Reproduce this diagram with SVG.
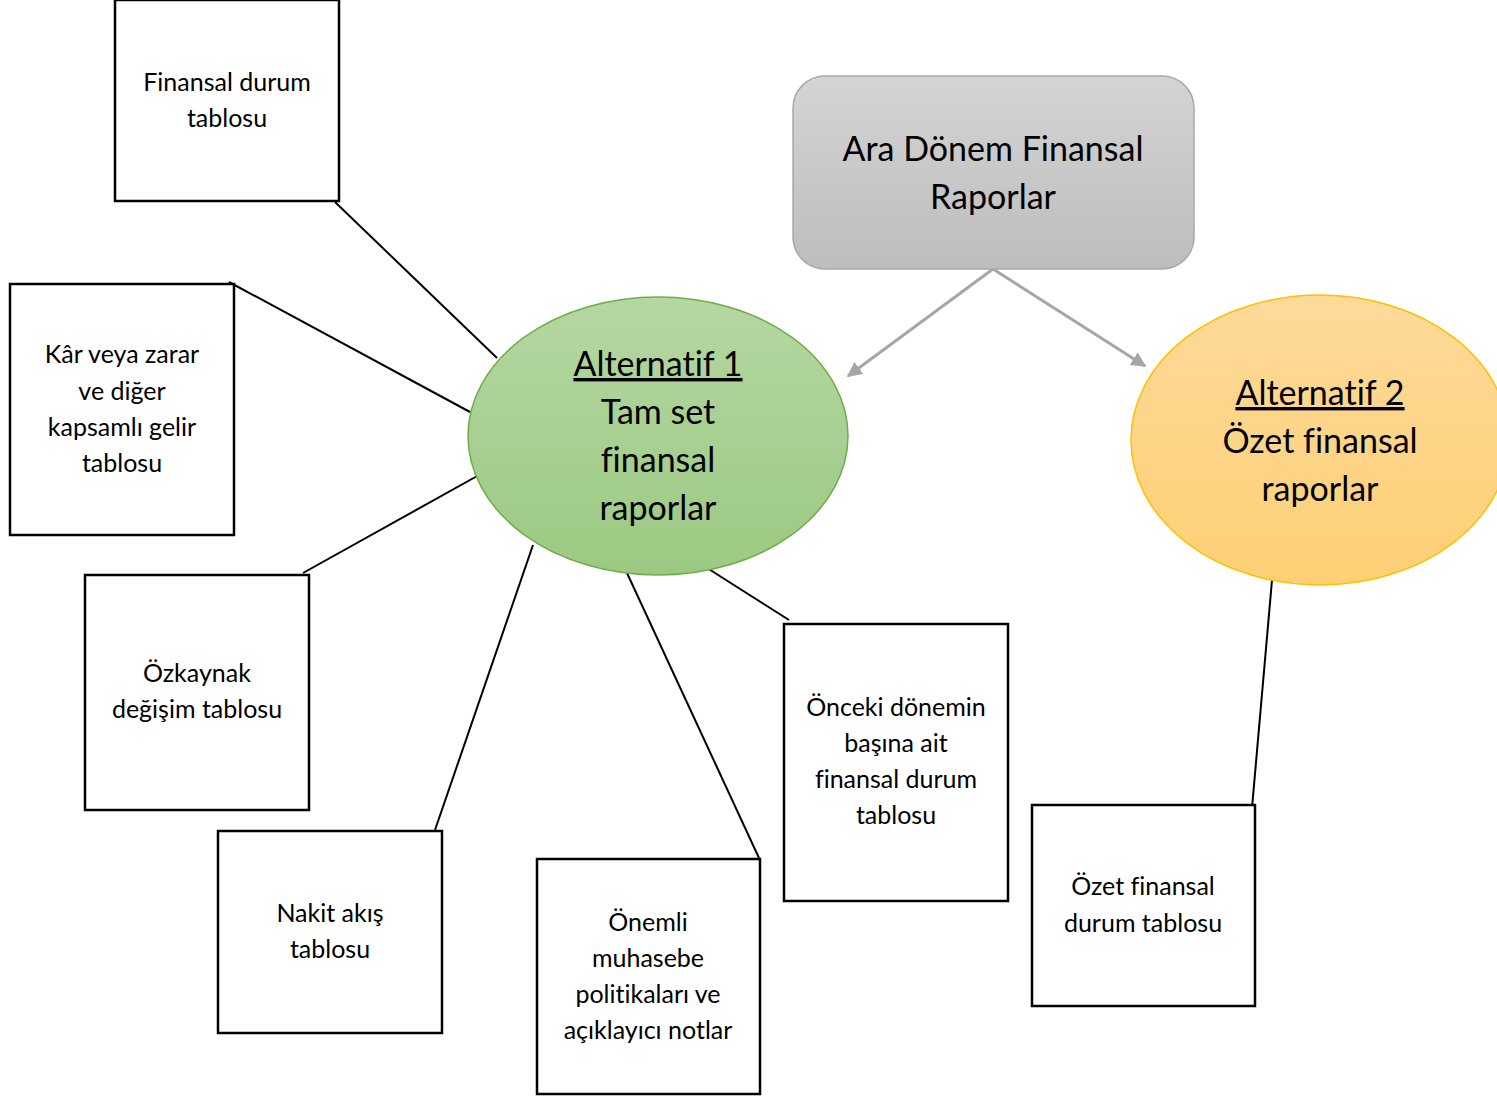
<svg xmlns="http://www.w3.org/2000/svg" width="1497" height="1099" viewBox="0 0 1497 1099">
<style>
text { font-family: Lato, "Open Sans", "Liberation Sans", sans-serif; fill: #000; text-anchor: middle; font-variant-ligatures: none; }
.big { font-size: 34px; }
.small { font-size: 25px; }
.box { fill: #fff; stroke: #000; stroke-width: 2.5; }
.link { stroke: #000; stroke-width: 2; fill: none; }
.arrow { stroke: #a6a6a6; stroke-width: 3; fill: none; marker-end: url(#ah); }
</style>
<defs>
<linearGradient id="gGray" x1="0" y1="0" x2="0" y2="1">
<stop offset="0" stop-color="#d4d4d4"/>
<stop offset="1" stop-color="#bdbdbd"/>
</linearGradient>
<linearGradient id="gGreen" x1="0" y1="0" x2="0" y2="1">
<stop offset="0" stop-color="#b5d7a2"/>
<stop offset="1" stop-color="#9bc982"/>
</linearGradient>
<linearGradient id="gOrange" x1="0" y1="0" x2="0" y2="1">
<stop offset="0" stop-color="#fdda9a"/>
<stop offset="1" stop-color="#fdd075"/>
</linearGradient>
<marker id="ah" viewBox="0 0 10 10" refX="9" refY="5" markerWidth="5" markerHeight="5" orient="auto" markerUnits="strokeWidth">
<path d="M0,0 L10,5 L0,10 z" fill="#a6a6a6"/>
</marker>
</defs>

<g id="connectors">
<line class="link" x1="335" y1="202" x2="497" y2="358"/>
<line class="link" x1="229" y1="282" x2="470" y2="412"/>
<line class="link" x1="303" y1="573" x2="479" y2="475"/>
<line class="link" x1="435" y1="830" x2="533" y2="545"/>
<line class="link" x1="627" y1="573" x2="759" y2="858"/>
<line class="link" x1="704" y1="566" x2="789" y2="620"/>
<line class="link" x1="1272" y1="580" x2="1252" y2="808"/>
<line class="arrow" x1="993" y1="269" x2="848" y2="376"/>
<line class="arrow" x1="993" y1="269" x2="1145" y2="366"/>
</g>

<g id="node-ara">
<rect x="793" y="76" width="401" height="193" rx="32" fill="url(#gGray)" stroke="#a9a9a9" stroke-width="1.5"/>
<text class="big" x="993" y="161">Ara Dönem Finansal</text>
<text class="big" x="993" y="209">Raporlar</text>
</g>

<g id="node-alt1">
<ellipse cx="658" cy="436" rx="190" ry="139" fill="url(#gGreen)" stroke="#70ad47" stroke-width="1.5"/>
<text class="big" x="658" y="376" text-decoration="underline">Alternatif 1</text>
<text class="big" x="658" y="424">Tam set</text>
<text class="big" x="658" y="472">finansal</text>
<text class="big" x="658" y="520">raporlar</text>
</g>

<g id="node-alt2">
<ellipse cx="1320" cy="440" rx="189" ry="145" fill="url(#gOrange)" stroke="#ffc000" stroke-width="1.5"/>
<text class="big" x="1320" y="405" text-decoration="underline">Alternatif 2</text>
<text class="big" x="1320" y="453">Özet finansal</text>
<text class="big" x="1320" y="501">raporlar</text>
</g>

<g id="node-finansal-durum">
<rect class="box" x="115" y="0" width="224" height="201"/>
<text class="small" x="227" y="91">Finansal durum</text>
<text class="small" x="227" y="127">tablosu</text>
</g>

<g id="node-kar-zarar">
<rect class="box" x="10" y="284" width="224" height="251"/>
<text class="small" x="122" y="363">Kâr veya zarar</text>
<text class="small" x="122" y="400">ve diğer</text>
<text class="small" x="122" y="436">kapsamlı gelir</text>
<text class="small" x="122" y="472">tablosu</text>
</g>

<g id="node-ozkaynak">
<rect class="box" x="85" y="575" width="224" height="235"/>
<text class="small" x="197" y="682">Özkaynak</text>
<text class="small" x="197" y="718">değişim tablosu</text>
</g>

<g id="node-nakit">
<rect class="box" x="218" y="831" width="224" height="202"/>
<text class="small" x="330" y="922">Nakit akış</text>
<text class="small" x="330" y="958">tablosu</text>
</g>

<g id="node-onemli">
<rect class="box" x="537" y="859" width="223" height="235"/>
<text class="small" x="648" y="931">Önemli</text>
<text class="small" x="648" y="967">muhasebe</text>
<text class="small" x="648" y="1003">politikaları ve</text>
<text class="small" x="648" y="1039">açıklayıcı notlar</text>
</g>

<g id="node-onceki">
<rect class="box" x="784" y="624" width="224" height="277"/>
<text class="small" x="896" y="716">Önceki dönemin</text>
<text class="small" x="896" y="752">başına ait</text>
<text class="small" x="896" y="788">finansal durum</text>
<text class="small" x="896" y="824">tablosu</text>
</g>

<g id="node-ozet">
<rect class="box" x="1032" y="805" width="223" height="201"/>
<text class="small" x="1143" y="895">Özet finansal</text>
<text class="small" x="1143" y="932">durum tablosu</text>
</g>
</svg>
